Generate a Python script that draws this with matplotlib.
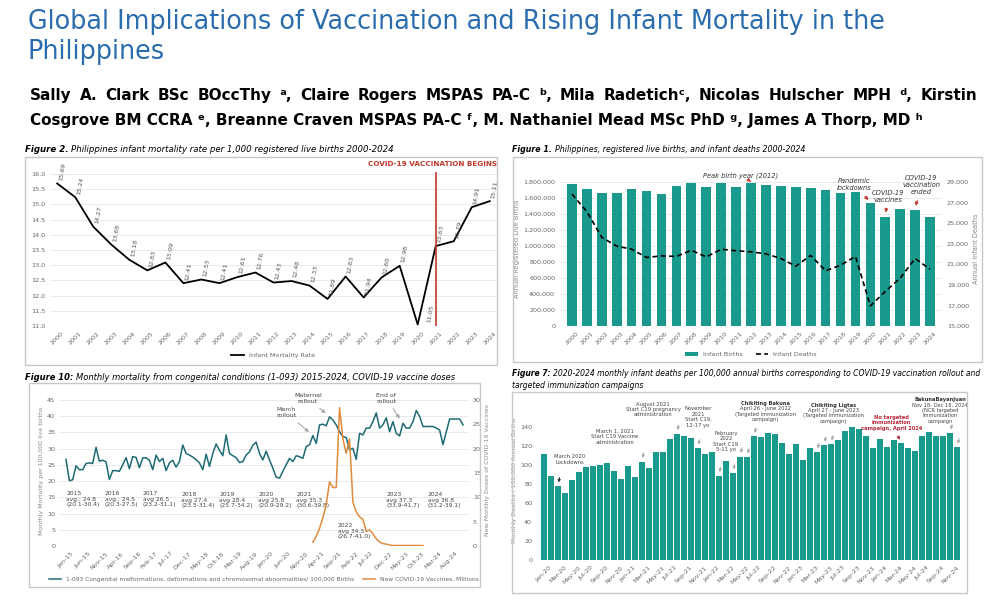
from matplotlib import pyplot as plt
from matplotlib.patches import Rectangle
import numpy as np

# ---------------- data ----------------
years = list(range(2000, 2025))
imr = [15.69, 15.24, 14.27, 13.68, 13.18, 12.83, 13.09, 12.41, 12.53, 12.41, 12.61, 12.76, 12.43,
       12.48, 12.33, 11.89, 12.63, 11.94, 12.60, 12.98, 11.05, 13.63, 13.79, 14.91, 15.11]

births = [1767000, 1712000, 1660000, 1665000, 1708000, 1680000, 1650000, 1745000, 1778000,
          1740000, 1778000, 1740000, 1790000, 1757000, 1748000, 1740000, 1724000, 1694000,
          1665000, 1668000, 1530000, 1364000, 1455000, 1450000, 1355000]
deaths = [27800, 26100, 23600, 22750, 22450, 21650, 21800, 21750, 22350, 21700, 22450, 22300,
          22200, 22000, 21550, 20800, 21850, 20350, 20900, 21750, 16950, 18350, 19650, 21550, 20500]

# Figure 10: Jan-2015 .. Dec-2024 congenital mortality per 100,000 births
congenital = [26.7, 20.1, 20.4, 24.7, 23.5, 23.5, 25.4, 25.6, 25.4, 30.4, 26.1, 26.4,
              25.9, 20.5, 23.2, 23.2, 23.0, 25.0, 27.2, 23.8, 27.5, 27.3, 24.1, 27.1,
              27.2, 26.4, 23.5, 28.0, 26.0, 27.0, 23.2, 25.6, 26.4, 24.3, 26.0, 31.1,
              28.5, 28.0, 27.4, 26.6, 25.6, 23.5, 28.3, 24.5, 28.5, 31.4, 29.5, 27.8,
              34.2, 28.5, 27.8, 27.2, 25.7, 26.0, 28.0, 29.0, 31.0, 32.0, 28.5, 26.5,
              29.2, 26.5, 24.0, 21.2, 20.9, 23.0, 25.0, 27.0, 26.0, 27.8, 27.5, 27.0,
              30.6, 31.2, 34.0, 31.6, 37.3, 37.5, 37.0, 39.8, 38.8, 37.3, 35.2, 33.7,
              33.4, 29.6, 30.1, 26.7, 34.7, 34.2, 36.3, 36.3, 38.3, 41.0, 36.3, 37.3,
              39.5, 35.2, 38.3, 34.7, 33.9, 37.8, 36.3, 36.3, 38.3, 41.7, 39.9, 36.8,
              36.8, 36.8, 36.8, 36.3, 35.7, 31.2, 35.2, 39.1, 39.1, 39.1, 39.1, 37.3]
# new vaccine doses (millions), Mar-2021 .. Dec-2023
vax_start = 74
vaccines = [0.8, 2.0, 3.6, 5.8, 8.5, 13.2, 12.0, 12.0, 28.4, 22.0, 19.0, 22.0, 9.0, 7.0, 6.0,
            5.5, 3.0, 3.3, 2.5, 1.5, 0.8, 0.5, 0.4, 0.2, 0.1, 0.1, 0.1, 0.1, 0.1, 0.1, 0.1,
            0.1, 0.1, 0.1]
mon = ["Jan", "Feb", "Mar", "Apr", "May", "Jun", "Jul", "Aug", "Sep", "Oct", "Nov", "Dec"]
months10 = [f"{mon[i % 12]}-{15 + i // 12}" for i in range(120)]
year_notes = [(0, 16.9, "2015\navg.: 24.8\n(20.1-30.4)"), (11.6, 16.9, "2016\navg.: 24.5\n(20.3-27.5)"),
              (23, 16.9, "2017\navg 26.5\n(23.2-31.1)"), (34.5, 16.5, "2018\navg 27.4\n(23.5-31.4)"),
              (46, 16.5, "2019\navg 28.4\n(25.7-34.2)"), (57.6, 16.5, "2020\navg 25.8\n(20.9-29.2)"),
              (69, 16.5, "2021\navg 35.3\n(30.6-39.8)"), (81.5, 7.0, "2022\navg 34.3\n(26.7-41.0)"),
              (96, 16.5, "2023\navg 37.3\n(33.9-41.7)"), (108.5, 16.5, "2024\navg 36.8\n(31.2-39.1)")]

# Figure 7: Jan-2020 .. Dec-2024 monthly infant deaths per 100,000 annual births
monthly_deaths = [112, 89, 78, 70.5, 84.6, 93.4, 98.7, 99, 100.5, 102, 94, 85.7,
                  99, 88, 104, 97.7, 114, 114.6, 128, 133.3, 131.5, 128.7, 118, 112,
                  114, 89, 104.7, 91.7, 109.3, 108.6, 130.5, 129.4, 134, 133, 124, 112,
                  122.4, 105.8, 118.8, 114, 121, 122.4, 127, 135.8, 140.7, 138, 130.5, 118,
                  128, 119.2, 127, 123.4, 118, 115.6, 130.5, 134.7, 131.5, 131, 134, 119]
months7 = [f"{mon[i % 12]}-{20 + i // 12}" for i in range(60)]

TEAL = "#1a9a8c"
W, H = 1000, 603

fig = plt.figure(figsize=(10, 6.03), dpi=100)
fig.patch.set_facecolor("white")
renderer = fig.canvas.get_renderer()


def px_axes(x0, y0, x1, y1):
    return fig.add_axes([x0 / W, 1 - y1 / H, (x1 - x0) / W, (y1 - y0) / H])


def ftext(x, y, s, **kw):
    return fig.text(x / W, 1 - y / H, s, **kw)


def width_px(t):
    return t.get_window_extent(renderer).width


def box(x0, y0, x1, y1):
    fig.patches.append(Rectangle((x0 / W, 1 - y1 / H), (x1 - x0) / W, (y1 - y0) / H,
                                 transform=fig.transFigure, fill=False, ec="#c8c8c8", lw=1))


helper = fig.add_axes([0, 0, 1, 1])
helper.axis("off")


def panel_title(x, y, head, rest, target):
    t = ftext(x, y, head, fontsize=7, fontweight="bold", style="italic", va="center")
    r = helper.annotate(rest, xy=(1, 0.5), xycoords=t, xytext=(2, 0), textcoords="offset points",
                        fontsize=7, style="italic", va="center", annotation_clip=False)
    total = width_px(t) + width_px(r) + 3
    fs = 7 * target / total
    t.set_fontsize(fs)
    r.set_fontsize(fs)
    return fs


def justified(x0, x1, y, line, fs):
    words = line.split(" ")
    texts = [ftext(0, y, w, fontsize=fs, fontweight="bold", va="center") for w in words]
    widths = [width_px(t) for t in texts]
    gap = (x1 - x0 - sum(widths)) / (len(words) - 1)
    x = x0
    for t, w in zip(texts, widths):
        t.set_x(x / W)
        x += w + gap


# ---------------- header ----------------
ftext(28, 22, "Global Implications of Vaccination and Rising Infant Mortality in the",
      fontsize=18.4, color="#2a6cae", va="center")
ftext(28, 52, "Philippines", fontsize=18.4, color="#2a6cae", va="center")
line2 = ftext(30, 121, "Cosgrove BM CCRA ᵉ, Breanne Craven MSPAS PA-C ᶠ, M. Nathaniel Mead MSc PhD ᵍ, "
              "James A Thorp, MD ʰ", fontsize=11, fontweight="bold", va="center")
afs = 11 * 893 / width_px(line2)
line2.set_fontsize(afs)
justified(30, 977, 96, "Sally A. Clark BSc BOccThy ᵃ, Claire Rogers MSPAS PA-C ᵇ, Mila Radetichᶜ, "
          "Nicolas Hulscher MPH ᵈ, Kirstin", afs)

# ---------------- Figure 2 ----------------
box(25, 157, 497, 365)
panel_title(25, 150, "Figure 2.", "Philippines infant mortality rate per 1,000 registered live births 2000-2024", 373)
ax = px_axes(50, 168, 497, 326)
ax.plot(years, imr, color="black", lw=1.3, label="Infant Mortality Rate")
for yr, v in zip(years, imr):
    if yr == 2020:
        ax.text(yr + 0.45, v + 0.05, f"{v:.2f}", rotation=80, fontsize=4.6, color="#555555",
                ha="left", va="bottom")
    else:
        ax.text(yr + 0.05, v + 0.08, f"{v:.2f}", rotation=80, fontsize=4.6, color="#555555",
                ha="left", va="bottom")
ax.axvline(2021, ymin=0, ymax=0.97, color="#c0392b", lw=1.2)
ax.text(2024.4, 16.32, "COVID-19 VACCINATION BEGINS", color="#c0392b", fontsize=5.2,
        fontweight="bold", ha="right", va="center")
ax.set_xlim(1999.6, 2024.4)
ax.set_ylim(11.0, 16.2)
ax.set_yticks(np.arange(11.0, 16.01, 0.5))
ax.set_yticklabels([f"{v:.1f}" for v in np.arange(11.0, 16.01, 0.5)])
ax.set_xticks(years)
ax.set_xticklabels(years, rotation=45)
ax.tick_params(labelsize=4.6, colors="#666666", length=0)
ax.grid(axis="y", color="#e6e6e6", lw=0.6)
for s in ax.spines.values():
    s.set_visible(False)
ax.legend(loc="upper center", bbox_to_anchor=(0.5, -0.13), frameon=False, fontsize=4.6,
          labelcolor="#666666", handlelength=2)

# ---------------- Figure 1 ----------------
box(513, 157, 982, 362)
panel_title(512, 150, "Figure 1.", "Philippines, registered live births, and infant deaths 2000-2024", 292)
ax1 = px_axes(560, 172, 942, 326)
ax1.bar(years, births, width=0.65, color=TEAL, label="Infant Births")
ax1.set_xlim(1999.2, 2024.8)
ax1.set_ylim(0, 1921000)
ax1.set_yticks(range(0, 1800001, 200000))
ax1.set_yticklabels([f"{v:,}" for v in range(0, 1800001, 200000)])
ax1.set_xticks(years)
ax1.set_xticklabels(years, rotation=45)
ax1.tick_params(labelsize=4.6, colors="#666666", length=0)
ax1.set_ylabel("Annual Registered Live Births", fontsize=4.8, color="#888888", labelpad=2)
ax1.grid(axis="y", color="#e6e6e6", lw=0.6)
ax1.set_axisbelow(True)
ax1r = ax1.twinx()
ax1r.plot(years, deaths, color="black", lw=1.2, ls=(0, (3, 2)), label="Infant Deaths")
ax1r.set_ylim(15000, 29941)
ax1r.set_yticks(range(15000, 29001, 2000))
ax1r.set_yticklabels([f"{v:,}" for v in range(15000, 29001, 2000)])
ax1r.tick_params(labelsize=4.6, colors="#666666", length=0)
ax1r.set_ylabel("Annual Infant Deaths", fontsize=4.8, color="#888888", labelpad=3)
for a in (ax1, ax1r):
    for s in a.spines.values():
        s.set_visible(False)
h1, l1 = ax1.get_legend_handles_labels()
h2, l2 = ax1r.get_legend_handles_labels()
ax1.legend(h1 + h2, l1 + l2, loc="upper center", bbox_to_anchor=(0.5, -0.13), ncol=2,
           frameon=False, fontsize=4.6, labelcolor="#666666")
arrow_red = dict(arrowstyle="-|>", color="#c0392b", lw=0.7, mutation_scale=5)
ann1 = [("Peak birth year (2012)", 2011.3, 1880000, 2012, 1800000),
        ("Pandemic\nlockdowns", 2018.9, 1760000, 2020, 1545000),
        ("COVID-19\nvaccines", 2021.2, 1620000, 2021, 1380000),
        ("COVID-19\nvaccination\nended", 2023.4, 1760000, 2023, 1465000)]
for txt, tx, ty, bx, by in ann1:
    ax1.annotate(txt, xy=(bx, by), xytext=(tx, ty), fontsize=4.8, style="italic", color="#333333",
                 ha="center", va="center", arrowprops=arrow_red, annotation_clip=False)

# ---------------- Figure 10 ----------------
box(29, 383, 480, 587)
panel_title(25, 377, "Figure 10:", "Monthly mortality from congenital conditions (1-093) 2015-2024, COVID-19 vaccine doses", 435)
ax10 = px_axes(60, 395, 468, 546)
x10 = np.arange(len(congenital))
ax10.plot(x10, congenital, color="#1f6b73", lw=1.1,
          label="1-093 Congenital malformations, deformations and chromosomal abnormalities/ 100,000 Births")
ax10.set_xlim(-1.8, 120.5)
ax10.set_ylim(0, 46.5)
ax10.set_yticks(range(0, 46, 5))
ax10.set_xticks(x10[::5])
ax10.set_xticklabels(months10[::5], rotation=45)
ax10.tick_params(labelsize=4.6, colors="#666666", length=0)
ax10.set_ylabel("Monthly Mortality per 100,000 live births", fontsize=4.5, color="#888888", labelpad=2)
ax10.grid(axis="y", color="#e6e6e6", lw=0.6)
ax10r = ax10.twinx()
xv = np.arange(vax_start, vax_start + len(vaccines))
ax10r.plot(xv, vaccines, color="#e08a3c", lw=1.1, label="New COVID-19 Vaccines, Millions")
ax10r.set_ylim(0, 31)
ax10r.set_yticks(range(0, 31, 5))
ax10r.tick_params(labelsize=4.6, colors="#666666", length=0)
ax10r.set_ylabel("New Monthly Doses of COVID-19 Vaccines", fontsize=4.5, color="#888888", labelpad=3)
for a in (ax10, ax10r):
    for s in a.spines.values():
        s.set_visible(False)
for xx, yy, txt in year_notes:
    ax10.text(xx, yy, txt, fontsize=4.3, color="#444444", ha="left", va="top", linespacing=1.1)
arrow_gray = dict(arrowstyle="-|>", color="#aaaaaa", lw=0.8, mutation_scale=5)
for txt, tx, ty, bx, by in [("March\nrollout", 66, 41, 73.5, 34.5),
                            ("Maternal\nrollout", 72.5, 45.5, 78.5, 40.3),
                            ("End of\nrollout", 96, 45.5, 100.5, 38.5)]:
    ax10.annotate(txt, xy=(bx, by), xytext=(tx, ty), fontsize=4.5, color="#444444",
                  ha="center", va="center", arrowprops=arrow_gray, annotation_clip=False)
h1, l1 = ax10.get_legend_handles_labels()
h2, l2 = ax10r.get_legend_handles_labels()
ax10.legend(h1 + h2, l1 + l2, loc="upper center", bbox_to_anchor=(0.5, -0.17), ncol=2,
            frameon=False, fontsize=4.3, labelcolor="#666666", columnspacing=1.5)

# ---------------- Figure 7 ----------------
box(512, 392, 967, 593)
fs7 = panel_title(512, 374, "Figure 7:", "2020-2024 monthly infant deaths per 100,000 annual births "
                  "corresponding to COVID-19 vaccination rollout and", 468)
ftext(512, 386, "targeted immunization campaigns", fontsize=fs7, style="italic", va="center")
ax7 = px_axes(537, 400, 964, 560)
x7 = np.arange(len(monthly_deaths))
ax7.bar(x7, monthly_deaths, width=0.72, color=TEAL)
ax7.set_xlim(-1, 60)
ax7.set_ylim(0, 169)
ax7.set_yticks(range(0, 141, 20))
ax7.set_xticks(x7[::2])
ax7.set_xticklabels(months7[::2], rotation=45)
ax7.tick_params(labelsize=4.6, colors="#666666", length=0)
ax7.set_ylabel("Monthly Deaths / 100,000 Annual Births", fontsize=4.5, color="#888888", labelpad=2)
for s in ax7.spines.values():
    s.set_visible(False)
ann7 = [("March 2020\nLockdowns", 3.7, 106, [2]),
        ("March 1, 2021\nStart C19 Vaccine\nadministration", 10.1, 130, [14]),
        ("August 2021\nStart C19 pregnancy\nadministration", 15.6, 159, [19]),
        ("November\n2021\nStart C19,\n12-17 yo", 22, 151, [22]),
        ("February\n2022\nStart C19\n5-11 yo", 26, 125, [25, 27])]
for txt, tx, ty, bars in ann7:
    ax7.text(tx, ty, txt, fontsize=3.8, color="#444444", ha="center", va="center", linespacing=1.1)
    for b in bars:
        ax7.annotate("", xy=(b, monthly_deaths[b] + 1), xytext=(b + 0.3, monthly_deaths[b] + 12),
                     arrowprops=dict(arrowstyle="-|>", color="#333333" if b == 2 else "#aaaaaa",
                                     lw=0.7, mutation_scale=4), annotation_clip=False)
camp7 = [("Chikiting Bakuna", "April 26 - June 2022\n(Targeted immunization\ncampaign)", 31.6, 168, [28, 29, 30]),
         ("Chikiting Ligtas", "April 27 - June 2023\n(Targeted immunization\ncampaign)", 41.3, 166, [39, 40, 41]),
         ("BakunaBayanJuan", "Nov 18- Dec 18, 2024\n(NCR targeted\nimmunization\ncampaign", 56.6, 172, [58, 59])]
for head, body, tx, ty, bars in camp7:
    ax7.text(tx, ty, head, fontsize=3.7, fontweight="bold", color="#333333", ha="center", va="top")
    ax7.text(tx, ty - 5.5, body, fontsize=3.7, color="#444444", ha="center", va="top", linespacing=1.1)
    for b in bars:
        ax7.annotate("", xy=(b, monthly_deaths[b] + 1), xytext=(b + 0.4, monthly_deaths[b] + 12),
                     arrowprops=dict(arrowstyle="-|>", color="#aaaaaa", lw=0.7, mutation_scale=4),
                     annotation_clip=False)
ax7.annotate("No targeted\nimmunization\ncampaign, April 2024", xy=(51, monthly_deaths[51] + 1),
             xytext=(49.6, 145), fontsize=3.7, fontweight="bold", color="#b5283a", ha="center",
             va="center", linespacing=1.1,
             arrowprops=dict(arrowstyle="-|>", color="#b5283a", lw=0.7, mutation_scale=4))

fig.savefig("out.png", dpi=100)
